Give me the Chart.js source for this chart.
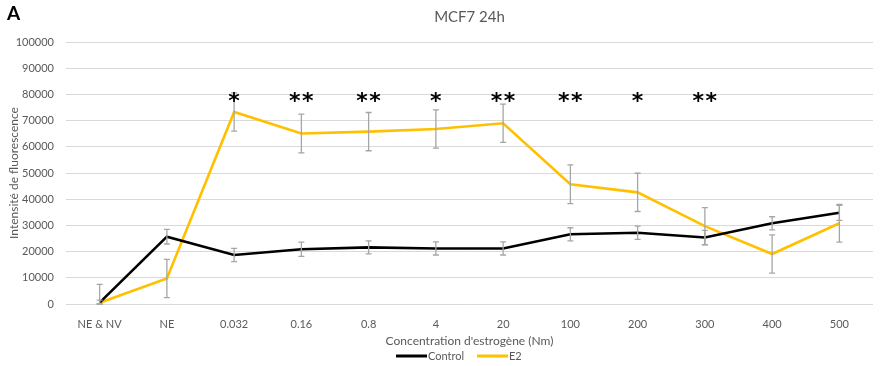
<!DOCTYPE html>
<html>
<head>
<meta charset="utf-8">
<script src="https://cdn.jsdelivr.net/npm/chart.js@4.4.0/dist/chart.umd.min.js"></script>
<style>
  html, body { margin: 0; padding: 0; background: #fff; }
  #wrap { width: 882px; height: 366px; }
</style>
</head>
<body>
<div id="wrap"><canvas id="graph"></canvas></div>
<script>
const categories = ["NE & NV", "NE", "0.032", "0.16", "0.8", "4", "20", "100", "200", "300", "400", "500"];
const controlValues = [500, 25700, 18700, 20900, 21600, 21200, 21200, 26600, 27200, 25400, 30800, 34800];
const controlErrors = [1000, 2800, 2500, 2700, 2500, 2500, 2500, 2500, 2500, 2700, 2500, 2900];
const e2Values = [500, 9700, 73300, 65100, 65800, 66800, 69000, 45700, 42600, 29700, 19100, 30800];
const e2Errors = [7000, 7300, 7300, 7400, 7300, 7300, 7300, 7400, 7300, 7100, 7300, 7200];
const stars = [0, 0, 1, 2, 2, 1, 2, 2, 1, 2, 0, 0];
const starLevel = 79000;

const FONT = "Lato, 'Noto Sans', sans-serif";
const GREY = "#595959";

const extras = {
  id: "extras",
  afterDatasetsDraw(chart) {
    const ctx = chart.ctx;
    const x = chart.scales.x;
    const y = chart.scales.y;
    const area = chart.chartArea;
    const sets = [[controlValues, controlErrors], [e2Values, e2Errors]];
    ctx.save();
    ctx.strokeStyle = "#a6a6a6";
    ctx.lineWidth = 1.3;
    sets.forEach(([vals, errs]) => {
      vals.forEach((v, i) => {
        const px = x.getPixelForValue(i);
        const top = y.getPixelForValue(v + errs[i]);
        const bot = y.getPixelForValue(Math.max(0, v - errs[i]));
        ctx.beginPath();
        ctx.moveTo(px, top); ctx.lineTo(px, bot);
        ctx.moveTo(px - 3, top); ctx.lineTo(px + 3, top);
        ctx.moveTo(px - 3, bot); ctx.lineTo(px + 3, bot);
        ctx.stroke();
      });
    });
    // significance stars
    ctx.fillStyle = "#000";
    ctx.font = "bold 22px 'DejaVu Sans'";
    ctx.textAlign = "center";
    ctx.textBaseline = "middle";
    stars.forEach((n, i) => {
      if (!n) return;
      const cx = x.getPixelForValue(i);
      const cy = y.getPixelForValue(starLevel) + 5;
      if (n === 1) ctx.fillText("*", cx, cy);
      else { ctx.fillText("*", cx - 6.5, cy); ctx.fillText("*", cx + 6.5, cy); }
    });
    // panel letter
    ctx.font = "bold 19px " + FONT;
    ctx.textAlign = "left";
    ctx.textBaseline = "alphabetic";
    ctx.fillText("A", 7, 20);
    // title centred on the plot area
    ctx.fillStyle = GREY;
    ctx.font = "15px " + FONT;
    ctx.textAlign = "center";
    ctx.textBaseline = "middle";
    ctx.fillText("MCF7 24h", (area.left + area.right) / 2, 17);
    // legend
    const ly = 356;
    ctx.font = "11px " + FONT;
    ctx.textAlign = "left";
    ctx.lineWidth = 3;
    const items = [["Control", "#000000", 396], ["E2", "#FFC000", 477]];
    items.forEach(([name, col, lx]) => {
      ctx.strokeStyle = col;
      ctx.beginPath();
      ctx.moveTo(lx, ly); ctx.lineTo(lx + 31, ly);
      ctx.stroke();
      ctx.fillStyle = GREY;
      ctx.fillText(name, lx + 32, ly);
    });
    ctx.restore();
  }
};

const chart = new Chart(document.getElementById("graph"), {
  type: "line",
  data: {
    labels: categories,
    datasets: [
      { label: "Control", data: controlValues, borderColor: "#000000", backgroundColor: "#000000", borderWidth: 2.6, pointRadius: 0, tension: 0 },
      { label: "E2", data: e2Values, borderColor: "#FFC000", backgroundColor: "#FFC000", borderWidth: 2.6, pointRadius: 0, tension: 0 },
    ],
  },
  options: {
    responsive: true,
    maintainAspectRatio: false,
    animation: false,
    layout: { padding: { left: 0, right: 9, top: 42, bottom: 18 } },
    plugins: {
      legend: { display: false },
      tooltip: { enabled: false },
    },
    scales: {
      x: {
        offset: true,
        grid: { display: false },
        border: { display: false },
        ticks: { color: GREY, font: { family: FONT, size: 11 }, padding: 6, maxRotation: 0, autoSkip: false },
        title: { display: true, text: "Concentration d'estrogène (Nm)", color: GREY, font: { family: FONT, size: 12 }, padding: { top: 2, bottom: 0 } },
        afterFit(scale) { scale.height = 44; },
      },
      y: {
        min: 0,
        max: 100000,
        grid: { color: "#d9d9d9", lineWidth: 1, drawTicks: false },
        border: { display: false },
        ticks: { stepSize: 10000, color: GREY, font: { family: FONT, size: 11 }, padding: 12, callback: (v) => String(v) },
        title: { display: true, text: "Intensité de fluorescence", color: GREY, font: { family: FONT, size: 12 }, padding: { top: 7, bottom: 0 } },
        afterFit(scale) { scale.width = 66; },
      },
    },
  },
  plugins: [extras],
});
</script>
</body>
</html>
